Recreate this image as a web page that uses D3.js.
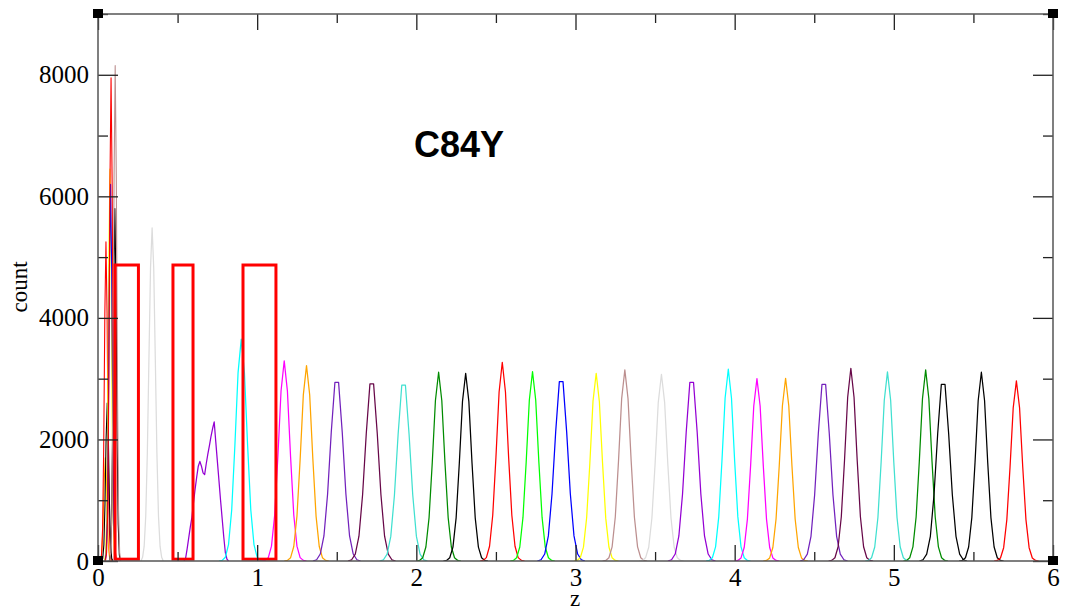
<!DOCTYPE html>
<html>
<head>
<meta charset="utf-8">
<script src="https://cdn.jsdelivr.net/npm/d3@7"></script>
<style>
  html, body { margin: 0; padding: 0; background: #fff; }
  svg { display: block; }
</style>
</head>
<body>
<svg id="chart" width="1065" height="612"></svg>
<script>
// ---------------- DATA ----------------
const chartTitle = "C84Y";
const xLabel = "z";
const yLabel = "count";
const xMajorTicks = [0, 1, 2, 3, 4, 5, 6];
const xMinorTicks = [0.5, 1.5, 2.5, 3.5, 4.5, 5.5];
const yMajorTicks = [0, 2000, 4000, 6000, 8000];
const yMinorTicks = [1000, 3000, 5000, 7000, 9000];

// z of first sample of each histogram window
const seriesStart = [
  0.011, 0.015, 0.023, 0.040, 0.044, 0.047, 0.071, 0.073,   // narrow cluster
  0.27, 0.54, 0.76,
  1.03, 1.17, 1.3505, 1.5705, 1.7705, 2.00, 2.17, 2.40, 2.59, 2.7605,
  2.99, 3.17, 3.40, 3.5805, 3.82, 4.00, 4.18, 4.4105, 4.59, 4.82,
  5.06, 5.1605, 5.41, 5.63
];
// z spacing of samples in each window
const seriesStep = [
  0.007, 0.007, 0.007, 0.007, 0.007, 0.007, 0.007, 0.007,
  0.01, 0.01, 0.02,
  0.02, 0.02, 0.023, 0.023, 0.023, 0.02, 0.02, 0.02, 0.02, 0.023,
  0.02, 0.02, 0.02, 0.023, 0.02, 0.02, 0.02, 0.023, 0.02, 0.02,
  0.02, 0.023, 0.02, 0.02
];
// counts of each window
const seriesCounts = [
  [0, 30, 175, 620, 1320, 1700, 1320, 620, 175, 30, 0],          // orange
  [0, 90, 540, 1910, 4070, 5250, 4070, 1910, 540, 90, 0],        // red
  [0, 45, 270, 950, 2020, 2600, 2020, 950, 270, 45, 0],          // black
  [0, 110, 660, 2350, 5000, 6450, 5000, 2350, 660, 110, 0],      // yellow
  [0, 105, 640, 2260, 4810, 6200, 4810, 2260, 640, 105, 0],      // blue
  [0, 135, 820, 2890, 6170, 7950, 6170, 2890, 820, 135, 0],      // red
  [0, 100, 600, 2110, 4500, 5800, 4500, 2110, 600, 100, 0],      // black
  [0, 140, 840, 2970, 6320, 8150, 6320, 2970, 840, 140, 0],      // brown
  [0, 60, 240, 740, 1780, 3330, 4830, 5480, 4830, 3330, 1780, 740, 240, 60, 0], // grey
  [0, 40, 200, 380, 560, 720, 960, 1180, 1380, 1560, 1640, 1560, 1450, 1420, 1600,
   1760, 1900, 2050, 2180, 2290, 1960, 1640, 1320, 1000, 700, 400, 140, 30, 0], // violet
  [0, 10, 62, 270, 840, 1900, 3100, 3650, 3100, 1900, 840, 270, 62, 10, 0],     // cyan
  [0, 10, 56, 244, 757, 1712, 2798, 3292, 2798, 1712, 757, 244, 56, 10, 0],     // magenta
  [0, 10, 55, 238, 739, 1672, 2733, 3215, 2733, 1672, 739, 238, 55, 10, 0],     // orange
  [0, 21, 115, 412, 1103, 2118, 2941, 2941, 2118, 1103, 412, 115, 21, 0],       // indigo
  [0, 20, 114, 408, 1093, 2098, 2914, 2914, 2098, 1093, 408, 114, 20, 0],       // maroon
  [0, 20, 113, 405, 1085, 2082, 2892, 2892, 2082, 1085, 405, 113, 20, 0],       // turquoise
  [0, 9, 53, 230, 714, 1615, 2640, 3106, 2640, 1615, 714, 230, 53, 9, 0],       // green4
  [0, 9, 53, 229, 710, 1606, 2626, 3089, 2626, 1606, 710, 229, 53, 9, 0],       // black
  [0, 10, 56, 242, 752, 1700, 2780, 3270, 2780, 1700, 752, 242, 56, 10, 0],     // red
  [0, 9, 53, 231, 717, 1621, 2649, 3117, 2649, 1621, 717, 231, 53, 9, 0],       // green
  [0, 21, 115, 413, 1107, 2125, 2952, 2952, 2125, 1107, 413, 115, 21, 0],       // blue
  [0, 9, 52, 228, 712, 1600, 2630, 3089, 2620, 1610, 705, 230, 52, 9, 0],       // yellow
  [0, 9, 53, 233, 723, 1635, 2672, 3144, 2672, 1635, 723, 233, 53, 9, 0],       // brown
  [0, 9, 52, 227, 707, 1597, 2611, 3072, 2611, 1597, 707, 227, 52, 9, 0],       // grey
  [0, 21, 115, 412, 1103, 2118, 2941, 2941, 2118, 1103, 412, 115, 21, 0],       // violet
  [0, 9, 54, 233, 726, 1641, 2682, 3155, 2682, 1641, 726, 233, 54, 9, 0],       // cyan
  [0, 9, 51, 222, 690, 1561, 2551, 3001, 2551, 1561, 690, 222, 51, 9, 0],       // magenta
  [0, 9, 51, 222, 691, 1563, 2555, 3006, 2555, 1563, 691, 222, 51, 9, 0],       // orange
  [0, 20, 113, 407, 1091, 2094, 2908, 2908, 2094, 1091, 407, 113, 20, 0],       // indigo
  [0, 10, 54, 235, 729, 1649, 2695, 3171, 2695, 1649, 729, 235, 54, 10, 0],     // maroon
  [0, 9, 53, 230, 716, 1618, 2644, 3111, 2644, 1618, 716, 230, 53, 9, 0],       // turquoise
  [0, 9, 53, 233, 723, 1635, 2672, 3144, 2672, 1635, 723, 233, 53, 9, 0],       // green4
  [0, 20, 113, 407, 1091, 2094, 2908, 2908, 2094, 1091, 407, 113, 20, 0],       // black
  [0, 9, 53, 230, 714, 1615, 2640, 3106, 2640, 1615, 714, 230, 53, 9, 0],       // black
  [0, 9, 50, 219, 681, 1541, 2519, 2963, 2519, 1541, 681, 219, 50, 9, 0]        // red
];

// red annotation boxes: [z0, z1] and [count0, count1]
const boxZ = [[0.107, 0.254], [0.471, 0.597], [0.911, 1.118]];
const boxCount = [30, 4870];

// ---------------- STYLE ----------------
const seriesColors = [
  "#ffa500", "#ff0000", "#000000", "#ffff00", "#0000ff", "#ff0000", "#000000", "#bc8f8f",
  "#dcdcdc", "#9400d3", "#00ffff",
  "#ff00ff", "#ffa500", "#7221bc", "#670748", "#40e0d0", "#008b00", "#000000", "#ff0000", "#00ff00",
  "#0000ff", "#ffff00", "#bc8f8f", "#dcdcdc", "#9400d3", "#00ffff", "#ff00ff", "#ffa500", "#7221bc", "#670748",
  "#40e0d0", "#008b00", "#000000", "#000000", "#ff0000"
];

const svg = d3.select("#chart");
const pL = 98, pR = 1053, pT = 14, pB = 561;
const x = d3.scaleLinear().domain([0, 6]).range([pL, pR]);
const y = d3.scaleLinear().domain([0, 9000]).range([pB, pT]);

svg.append("rect").attr("width", 1065).attr("height", 612).attr("fill", "#fff");

svg.append("clipPath").attr("id", "plotclip")
  .append("rect").attr("x", pL).attr("y", pT - 2)
  .attr("width", pR - pL).attr("height", pB - pT + 2);

const plot = svg.append("g").attr("clip-path", "url(#plotclip)");

seriesCounts.forEach((vals, i) => {
  const s = seriesStart[i], st = seriesStep[i];
  const line = d3.line()
    .x((d, j) => x(s + j * st))
    .y(d => y(d));
  plot.append("path")
    .attr("d", line(vals))
    .attr("fill", "none")
    .attr("stroke", seriesColors[i])
    .attr("stroke-width", i < 8 ? 1.1 : 1.25)
    .attr("stroke-linejoin", "round");
});

// annotation boxes
boxZ.forEach(b => {
  svg.append("rect")
    .attr("x", x(b[0]))
    .attr("y", y(boxCount[1]))
    .attr("width", x(b[1]) - x(b[0]))
    .attr("height", y(boxCount[0]) - y(boxCount[1]))
    .attr("fill", "none")
    .attr("stroke", "#ff0000")
    .attr("stroke-width", 3);
});

// axes
const fmt = d3.format("d");
function styleAxis(g) {
  g.select(".domain").remove();
  g.selectAll(".tick line").attr("stroke", "#222").attr("stroke-width", 1.3);
  g.selectAll("text")
    .attr("font-family", "'Liberation Serif', 'DejaVu Serif', serif")
    .attr("font-size", 25)
    .attr("fill", "#000");
}

svg.append("g").attr("transform", `translate(${pL},0)`)
  .call(d3.axisLeft(y).tickValues(yMajorTicks).tickSize(-20).tickPadding(9).tickFormat(fmt))
  .call(styleAxis);
svg.append("g").attr("transform", `translate(${pL},0)`)
  .call(d3.axisLeft(y).tickValues(yMinorTicks).tickSize(-10).tickFormat(""))
  .call(styleAxis);
svg.append("g").attr("transform", `translate(${pR},0)`)
  .call(d3.axisRight(y).tickValues(yMajorTicks).tickSize(-20).tickFormat(""))
  .call(styleAxis);
svg.append("g").attr("transform", `translate(${pR},0)`)
  .call(d3.axisRight(y).tickValues(yMinorTicks).tickSize(-10).tickFormat(""))
  .call(styleAxis);
svg.append("g").attr("transform", `translate(0,${pB})`)
  .call(d3.axisBottom(x).tickValues(xMajorTicks).tickSize(-16).tickPadding(7).tickFormat(fmt))
  .call(styleAxis);
svg.append("g").attr("transform", `translate(0,${pB})`)
  .call(d3.axisBottom(x).tickValues(xMinorTicks).tickSize(-9).tickFormat(""))
  .call(styleAxis);
svg.append("g").attr("transform", `translate(0,${pT})`)
  .call(d3.axisTop(x).tickValues(xMajorTicks).tickSize(-16).tickFormat(""))
  .call(styleAxis);
svg.append("g").attr("transform", `translate(0,${pT})`)
  .call(d3.axisTop(x).tickValues(xMinorTicks).tickSize(-9).tickFormat(""))
  .call(styleAxis);

// frame
svg.append("rect")
  .attr("x", pL).attr("y", pT)
  .attr("width", pR - pL).attr("height", pB - pT)
  .attr("fill", "none").attr("stroke", "#555").attr("stroke-width", 1.5);

// corner handles
[[pL, pT], [pR, pT], [pL, pB], [pR, pB]].forEach(c => {
  svg.append("rect").attr("x", c[0] - 5).attr("y", c[1] - 5)
    .attr("width", 10).attr("height", 9).attr("fill", "#000");
});

// axis titles
svg.append("text")
  .attr("transform", "translate(27,287) rotate(-90)")
  .attr("text-anchor", "middle")
  .attr("font-family", "'Liberation Serif', 'DejaVu Serif', serif")
  .attr("font-size", 23)
  .text(yLabel);
svg.append("text")
  .attr("x", 575).attr("y", 606)
  .attr("text-anchor", "middle")
  .attr("font-family", "'Liberation Serif', 'DejaVu Serif', serif")
  .attr("font-size", 23)
  .text(xLabel);

// title
svg.append("text")
  .attr("x", 414).attr("y", 157)
  .attr("font-family", "'Liberation Sans', Arial, sans-serif")
  .attr("font-weight", "bold")
  .attr("font-size", 36)
  .text(chartTitle);
</script>
</body>
</html>
